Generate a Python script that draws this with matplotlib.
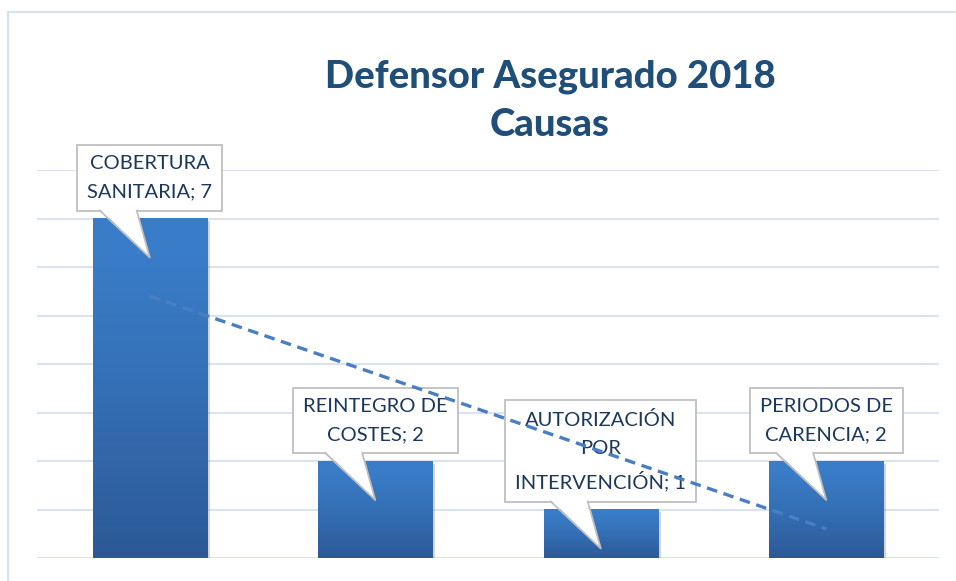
import numpy as np
import matplotlib
matplotlib.use('Agg')
import matplotlib.pyplot as plt
import matplotlib.transforms as mtransforms
from matplotlib.patches import Polygon
from matplotlib.lines import Line2D
import matplotlib.patheffects as pe

plt.rcParams['font.family'] = ['Lato', 'DejaVu Sans']

# data
causas = ['COBERTURA\nSANITARIA', 'REINTEGRO DE\nCOSTES', 'AUTORIZACIÓN\nPOR\nINTERVENCIÓN',
          'PERIODOS DE\nCARENCIA']
valores = [7, 2, 1, 2]
titulo = 'Defensor Asegurado 2018\nCausas'

DPI = 100
fig = plt.figure(figsize=(9.56, 5.81), dpi=DPI)
ax = fig.add_axes([37 / 956, 23 / 581, 902 / 956, 388 / 581])

x = np.arange(len(valores))
bar_w = 0.506

# gradient for the bars (top light, bottom darker)
top_col = np.array([58, 126, 202]) / 255
bot_col = np.array([44, 89, 150]) / 255
t = np.linspace(0, 1, 256)[:, None]
grad = top_col * (1 - t[..., None] ** 1.3) + bot_col * (t[..., None] ** 1.3)

for xi, v in zip(x, valores):
    # shadow
    ax.bar(xi, v, width=bar_w, color='white', zorder=2,
           path_effects=[pe.SimplePatchShadow(offset=(2, -2), shadow_rgbFace='#888888', alpha=0.35),
                         pe.Normal()])
    ax.imshow(grad, extent=(xi - bar_w / 2, xi + bar_w / 2, 0, v), aspect='auto',
              zorder=3, interpolation='bilinear')

ax.set_xlim(-0.5, len(valores) - 0.5)
ax.set_ylim(0, 8)
ax.set_yticks(range(0, 9))
ax.grid(axis='y', color='#d9e3f1', lw=1.5, zorder=0)
ax.set_axisbelow(True)
ax.tick_params(left=False, bottom=False, labelleft=False, labelbottom=False)
for s in ax.spines.values():
    s.set_visible(False)

# callouts
fs = 14.5
pad = 0.5
lab_col = '#1c375e'
box_gap = 8  # px above bar top
for xi, v, lab in zip(x, valores, causas):
    off_pts = box_gap * 72 / DPI + pad * fs
    ax.annotate(f'{lab}; {v}', xy=(xi, v), xytext=(0, off_pts), textcoords='offset points',
                ha='center', va='bottom', fontsize=fs, color=lab_col, linespacing=1.8,
                zorder=5,
                bbox=dict(boxstyle=f'square,pad={pad}', fc='white', ec='#bfbfbf', lw=1.3))
    trans = fig.dpi_scale_trans + mtransforms.ScaledTranslation(xi, v, ax.transData)
    base_l, base_r, tip = -50, -13, -39
    pts = np.array([[base_l, box_gap + 1.5], [0, tip], [base_r, box_gap + 1.5]]) / DPI
    ax.add_patch(Polygon(pts, closed=True, transform=trans, fc='white', ec='none', zorder=6,
                         clip_on=False))
    edge = np.array([[base_l, box_gap], [0, tip], [base_r, box_gap]]) / DPI
    ax.add_line(Line2D(edge[:, 0], edge[:, 1], transform=trans, color='#bfbfbf', lw=1.3,
                       zorder=6, clip_on=False))

# linear trend line
k, b = np.polyfit(x, valores, 1)
ax.plot(x[[0, -1]], k * x[[0, -1]] + b, ls=(0, (3.2, 2.0)), color='#4a7ec3', lw=2.4, zorder=8)

# chart border (left and top)
fig.add_artist(Line2D([8 / 956, 8 / 956], [0, 1 - 12 / 581], color='#d6e1f1', lw=1.6))
fig.add_artist(Line2D([8 / 956, 1], [1 - 12 / 581, 1 - 12 / 581], color='#d6e1f1', lw=1.6))

fig.text(550 / 956, 1 - 101 / 581, titulo, ha='center', va='center', fontsize=27.5,
         fontweight='black', color='#1f4e79', linespacing=1.5)

fig.savefig('out.png', dpi=DPI)
